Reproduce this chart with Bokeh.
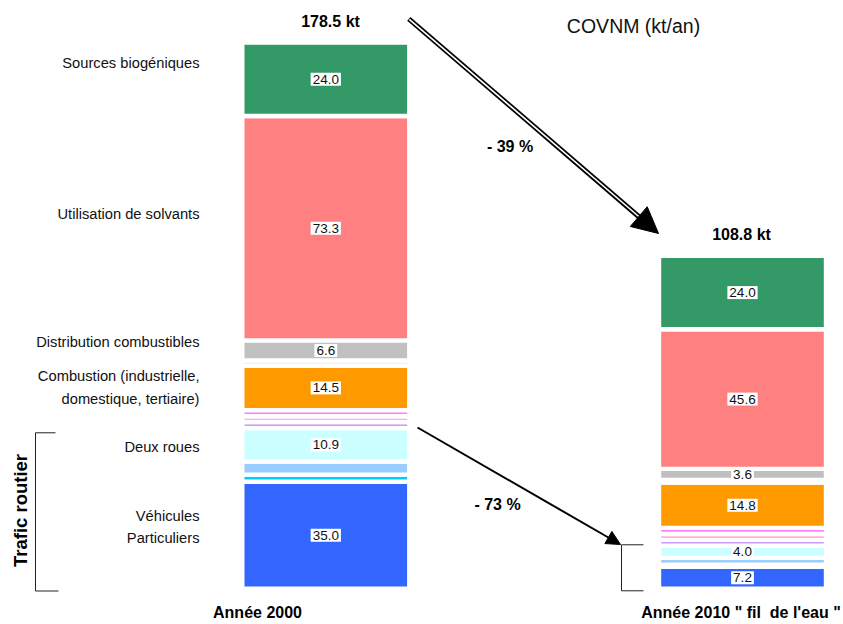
import numpy as np
from bokeh.plotting import figure
from bokeh.models import ColumnDataSource, Range1d, Arrow, NormalHead
from bokeh.core.properties import value
from bokeh.embed import file_html
from bokeh.resources import INLINE

# --- data: COVNM emissions (kt/an), stacked from bottom to top ---
postes = [
    "Véhicules Particuliers", "Trafic autre 1", "Trafic autre 2", "Deux roues",
    "Trafic autre 3", "Trafic autre 4", "Trafic autre 5",
    "Combustion (industrielle, domestique, tertiaire)", "Autres combustions",
    "Distribution combustibles", "Utilisation de solvants", "Sources biogéniques",
]
valeurs_2000 = [35.0, 2.3, 4.3, 10.9, 2.0, 1.9, 2.0, 14.5, 1.7, 6.6, 73.3, 24.0]
valeurs_2010 = [7.2, 0.7, 2.2, 4.0, 1.9, 1.9, 2.0, 14.8, 0.9, 3.6, 45.6, 24.0]
couleurs = ["#3366ff", "#00ccff", "#99ccff", "#ccffff",
            "#cc99ff", "#ff99cc", "#ff80ff",
            "#ff9900", "#ffdd88", "#c0c0c0", "#ff8080", "#339966"]
postes_etiquetes = ["Véhicules Particuliers", "Deux roues",
                    "Combustion (industrielle, domestique, tertiaire)",
                    "Distribution combustibles", "Utilisation de solvants",
                    "Sources biogéniques"]
annees = ["Année 2000", "Année 2010 \" fil\u00a0 de l'eau \""]
totaux = ["178.5 kt", "108.8 kt"]
variations = ["- 39 %", "- 73 %"]

# --- layout ---
W, H = 843, 624
BASE_PX = 588.3        # screen row of the zero line
PX_PER_KT = 3.06
BAR_X = [325.3, 742.0]
BAR_W = 167.0

def ky(py):
    """screen row -> kt"""
    return (BASE_PX - py) / PX_PER_KT

SANS = value("Liberation Sans")

p = figure(width=W, height=H, x_range=Range1d(0, W), y_range=Range1d(ky(H), ky(0)),
           output_backend="svg", toolbar_location=None, min_border=0)
p.axis.visible = False
p.grid.visible = False
p.outline_line_color = None
p.background_fill_color = "white"
p.border_fill_color = "white"

# stacked bars
lab_x, lab_y, lab_t = [], [], []
for bx, vals in zip(BAR_X, [valeurs_2000, valeurs_2010]):
    v = np.array(vals)
    tops = np.cumsum(v)
    bottoms = tops - v
    src = ColumnDataSource(dict(x=[bx] * len(v), bottom=bottoms, top=tops,
                                color=couleurs, name=postes))
    p.vbar(x="x", width=BAR_W, bottom="bottom", top="top", fill_color="color",
           line_color="white", line_width=4.4, source=src)
    for name, b, t, val in zip(postes, bottoms, tops, v):
        if name in postes_etiquetes:
            lab_x.append(bx)
            lab_y.append((b + t) / 2)
            lab_t.append(f"{val:.1f}")

p.text(x=lab_x, y=lab_y, text=lab_t, text_font=SANS, text_font_size="13.5px",
       text_align="center", text_baseline="middle", text_color="#111111",
       background_fill_color="white", padding=2)

# category names
cat_txt = ["Sources biogéniques", "Utilisation de solvants", "Distribution combustibles",
           "Combustion (industrielle,", "domestique, tertiaire)", "Deux roues",
           "Véhicules", "Particuliers"]
cat_py = [62, 213, 341, 375, 398, 446, 515, 537]
p.text(x=[199] * len(cat_txt), y=[ky(v) for v in cat_py], text=cat_txt,
       text_font=SANS, text_font_size="14.7px", text_align="right",
       text_baseline="middle", text_color="#111111")

# totals, years, variations
p.text(x=[330, 741], y=[ky(21), ky(234)], text=totaux, text_font=SANS,
       text_font_style="bold", text_font_size="16px", text_align="center",
       text_baseline="middle", text_color="#000000")
p.text(x=[257, 740.5], y=[ky(612), ky(612)], text=annees, text_font=SANS,
       text_font_style="bold", text_font_size="16px", text_align="center",
       text_baseline="middle", text_color="#000000")
p.text(x=[509.5, 497], y=[ky(146), ky(504)], text=variations, text_font=SANS,
       text_font_style="bold", text_font_size="16px", text_align="center",
       text_baseline="middle", text_color="#000000")

# title
p.text(x=[633], y=[ky(25)], text=["COVNM (kt/an)"], text_font=SANS,
       text_font_size="19.5px", text_align="center", text_baseline="middle",
       text_color="#111111")

# road traffic bracket
p.line(x=[55, 35, 35, 58], y=[ky(432.3), ky(432.3), ky(590.5), ky(590.5)],
       line_color="#222222", line_width=1)
p.text(x=[20], y=[ky(510)], text=["Trafic routier"], text_font=SANS,
       text_font_style="bold", text_font_size="18.5px", angle=np.pi / 2,
       text_align="center", text_baseline="middle", text_color="#000000")

# bracket on 2010 bar
p.line(x=[643, 621, 621, 643], y=[ky(544.3), ky(544.3), ky(590.3), ky(590.3)],
       line_color="#222222", line_width=1)

# total-change arrow (double line)
p.segment(x0=[408.3], y0=[ky(18.3)], x1=[648], y1=[ky(224.5)],
          line_color="black", line_width=5)
p.segment(x0=[408.8], y0=[ky(18.8)], x1=[640], y1=[ky(217.5)],
          line_color="white", line_width=1.6)
p.add_layout(Arrow(end=NormalHead(size=26, fill_color="black", line_color="black"),
                   x_start=630, y_start=ky(209), x_end=658, y_end=ky(233),
                   line_alpha=0))

# road-traffic change arrow
p.add_layout(Arrow(end=NormalHead(size=14, fill_color="black", line_color="black"),
                   x_start=417, y_start=ky(427), x_end=620, y_end=ky(544),
                   line_color="black", line_width=2))

open("out.html", "w").write(file_html(p, INLINE))
